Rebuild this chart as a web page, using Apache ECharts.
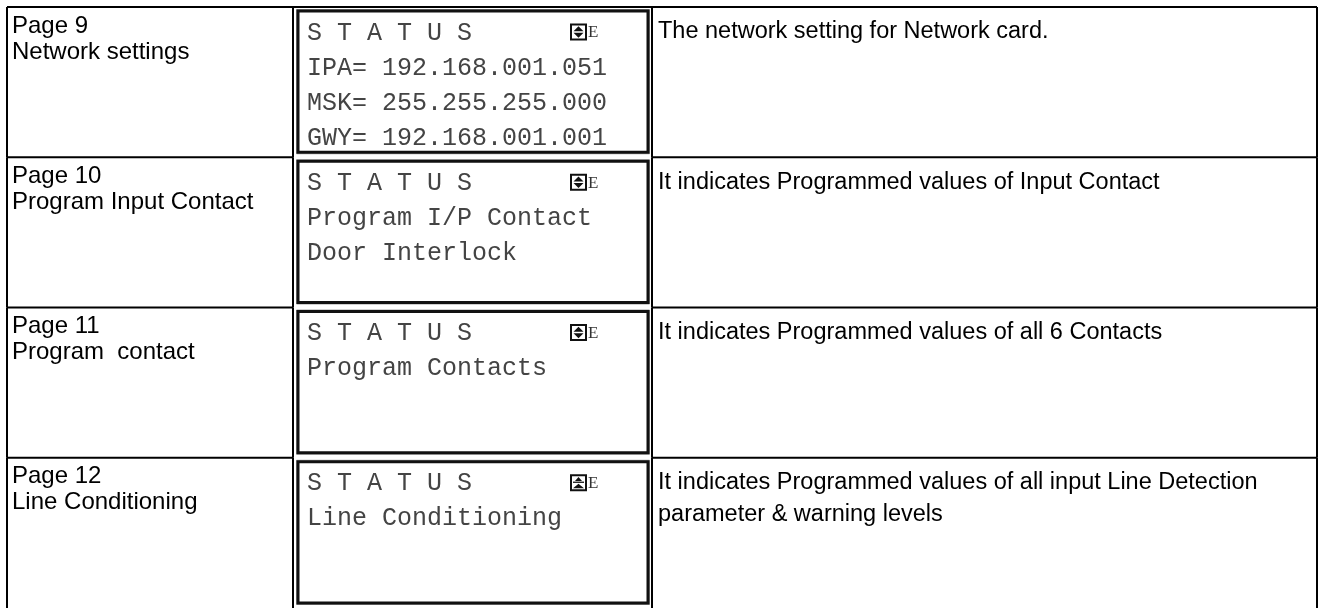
<!DOCTYPE html>
<html><head><meta charset="utf-8">
<script src="https://cdn.jsdelivr.net/npm/echarts@6/dist/echarts.min.js"></script>
<style>html,body{margin:0;padding:0;background:#fff}#c{width:1319px;height:610px}</style>
</head><body><div id="c"></div>
<script>
// ---- data ----
const pageNumbers = ['Page 9', 'Page 10', 'Page 11', 'Page 12'];
const pageTitles = ['Network settings', 'Program Input Contact', 'Program  contact', 'Line Conditioning'];
const screenHeaders = ['S T A T U S', 'S T A T U S', 'S T A T U S', 'S T A T U S'];
const screenLines = [
  ['IPA= 192.168.001.051', 'MSK= 255.255.255.000', 'GWY= 192.168.001.001'],
  ['Program I/P Contact', 'Door Interlock'],
  ['Program Contacts'],
  ['Line Conditioning']
];
const scrollIcons = ['updown', 'updown', 'updown', 'up'];
const screenModes = ['E', 'E', 'E', 'E'];
const descriptions = [
  'The network setting for Network card.',
  'It indicates Programmed values of Input Contact',
  'It indicates Programmed values of all 6 Contacts',
  'It indicates Programmed values of all input Line Detection\nparameter & warning levels'
];

// ---- layout (column boundaries on the x value axis) ----
const COLS = [0, 286, 645, 1310];

const chart = echarts.init(document.getElementById('c'), null, {renderer: 'canvas'});

function renderRow(params, api) {
  const i = params.dataIndex;
  const c = api.coord([0, i]);
  const h = api.size([0, 1])[1];
  const top = c[1] - h / 2, bot = c[1] + h / 2;
  const xs = COLS.map(v => api.coord([v, i])[0]);
  const line = (x1, y1, x2, y2, w, col) => ({type: 'line', shape: {x1, y1, x2, y2}, style: {stroke: col || '#000', lineWidth: w || 2}});
  const els = [];
  xs.forEach(x => els.push(line(x, top, x, bot)));
  if (i === 0) els.push(line(xs[0], top, xs[3], top));
  else {
    els.push(line(xs[0], top, xs[1], top));
    els.push(line(xs[2], top, xs[3], top));
  }
  els.push({type: 'text', style: {text: pageNumbers[i] + '\n' + pageTitles[i], x: xs[0] + 5, y: top + 6,
    font: '24px "Liberation Sans", Arial, sans-serif', fill: '#000', lineHeight: 26, align: 'left', verticalAlign: 'top'}});
  const bx = xs[1] + 5, by = top + 4, bw = xs[2] - xs[1] - 9, bh = h - 9;
  els.push({type: 'rect', shape: {x: bx - 1.5, y: by - 1.5, width: bw + 3, height: bh + 3}, style: {fill: 'none', stroke: '#a0a0a0', lineWidth: 1}});
  els.push({type: 'rect', shape: {x: bx, y: by, width: bw, height: bh}, style: {fill: '#fff', stroke: '#111', lineWidth: 3}});
  const lcdFont = '25px "Liberation Mono", "Courier New", monospace';
  const lines = [screenHeaders[i]].concat(screenLines[i]);
  lines.forEach((t, k) => {
    els.push({type: 'text', style: {text: t, x: bx + 9, y: by + 22 + k * 35, font: lcdFont, fill: '#444', align: 'left', verticalAlign: 'middle'}});
  });
  const ix = bx + 273, iy = by + 21, s = 15;
  const cx = ix + s / 2, cy = iy;
  els.push({type: 'rect', shape: {x: ix, y: iy - s / 2, width: s, height: s}, style: {fill: '#fff', stroke: '#111', lineWidth: 2}});
  if (scrollIcons[i] === 'updown') {
    els.push({type: 'polygon', shape: {points: [[cx - 5, cy - 0.8], [cx + 5, cy - 0.8], [cx, cy - 5.8]]}, style: {fill: '#111'}});
    els.push({type: 'polygon', shape: {points: [[cx - 5, cy + 0.8], [cx + 5, cy + 0.8], [cx, cy + 5.8]]}, style: {fill: '#111'}});
  } else {
    els.push({type: 'polygon', shape: {points: [[cx - 3.5, cy - 1.8], [cx + 3.5, cy - 1.8], [cx, cy - 5.8]]}, style: {fill: '#111'}});
    els.push(line(cx - 5.5, cy - 0.5, cx + 5.5, cy - 0.5, 1.3, '#111'));
    els.push({type: 'polygon', shape: {points: [[cx - 5.5, cy + 5.5], [cx + 5.5, cy + 5.5], [cx, cy + 1]]}, style: {fill: '#111'}});
  }
  els.push({type: 'text', style: {text: screenModes[i], x: ix + s + 2, y: cy + 1, font: '17px "Liberation Serif", "Times New Roman", serif', fill: '#333', align: 'left', verticalAlign: 'middle'}});
  els.push({type: 'text', style: {text: descriptions[i], x: xs[2] + 6, y: top + 9,
    font: '23.5px "Liberation Sans", Arial, sans-serif', fill: '#000', lineHeight: 32, align: 'left', verticalAlign: 'top'}});
  return {type: 'group', children: els};
}

chart.setOption({
  animation: false,
  backgroundColor: '#fff',
  grid: {left: 7, right: 2, top: 7, bottom: 2, containLabel: false},
  xAxis: {type: 'value', min: COLS[0], max: COLS[3], show: false},
  yAxis: {type: 'category', data: pageNumbers, inverse: true, show: false},
  series: [{
    type: 'custom',
    clip: false,
    silent: true,
    renderItem: renderRow,
    data: pageNumbers.map((p, i) => [0, i])
  }]
});
</script></body></html>
